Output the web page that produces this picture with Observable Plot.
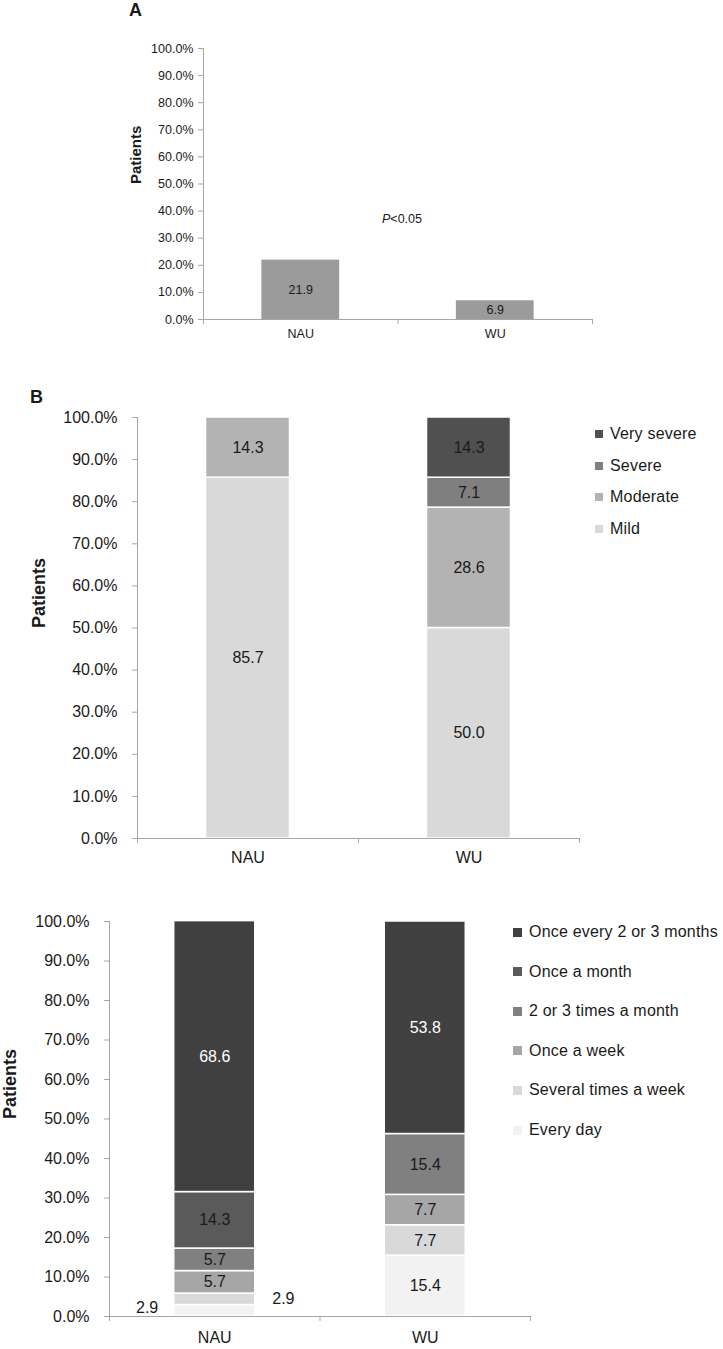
<!DOCTYPE html>
<html><head><meta charset="utf-8">
<script src="https://cdn.jsdelivr.net/npm/d3@7"></script>
<script src="https://cdn.jsdelivr.net/npm/@observablehq/plot@0.6"></script>
<style>
body{margin:0;background:#fff;font-family:"Liberation Sans",Arial,Helvetica,sans-serif;}
#root{position:relative;width:723px;height:1349px;overflow:hidden;background:#fff;}
.abs{position:absolute;white-space:nowrap;color:#1a1a1a;}
</style></head><body><div id="root"></div>
<script>
// ---------- data ----------
const groups = ["NAU", "WU"];
const yTicks = [0, 10, 20, 30, 40, 50, 60, 70, 80, 90, 100];

// Panel A
const aValues = [21.9, 6.9];
const aNote = "P<0.05";

// Panel B (bottom to top)
const bSeries = ["Mild", "Moderate", "Severe", "Very severe"];
const bNAU = [85.7, 14.3, 0, 0];
const bWU = [50.0, 28.6, 7.1, 14.3];
const bColors = ["#d9d9d9", "#b3b3b3", "#7f7f7f", "#505050"];

// Panel C (bottom to top)
const cSeries = ["Every day", "Several times a week", "Once a week", "2 or 3 times a month", "Once a month", "Once every 2 or 3 months"];
const cNAU = [2.9, 2.9, 5.7, 5.7, 14.3, 68.6];
const cWU = [15.4, 7.7, 7.7, 15.4, 0, 53.8];
const cColors = ["#f2f2f2", "#d9d9d9", "#a6a6a6", "#808080", "#5a5a5a", "#404040"];

// ---------- helpers ----------
const FONT = "'Liberation Sans', Arial, Helvetica, sans-serif";
const AXIS = "#a6a6a6";
const TXT = "#1a1a1a";
const root = document.getElementById("root");

function stackRows(series, valuesByGroup) {
  const rows = [];
  valuesByGroup.forEach((vals, gi) => {
    let acc = 0;
    vals.forEach((v, si) => {
      rows.push({group: groups[gi], gi, series: series[si], si, value: v, y1: acc, y2: acc + v});
      acc += v;
    });
  });
  return rows.filter(r => r.value > 0);
}

function place(el, top) {
  el.style.position = "absolute";
  el.style.left = "0px";
  el.style.top = top + "px";
  root.appendChild(el);
}

function htmlText(txt, left, top, size, bold) {
  const d = document.createElement("div");
  d.className = "abs";
  d.textContent = txt;
  d.style.left = left + "px";
  d.style.top = top + "px";
  d.style.fontSize = size + "px";
  d.style.lineHeight = "1";
  if (bold) d.style.fontWeight = "bold";
  root.appendChild(d);
  return d;
}

function legend(series, colors, x, y0, step, sq, size) {
  const order = series.map((s, i) => i).reverse();
  order.forEach((si, k) => {
    const cy = y0 + k * step;
    const sw = document.createElement("div");
    sw.className = "abs";
    sw.style.left = x + "px";
    sw.style.top = (cy - sq / 2) + "px";
    sw.style.width = sq + "px";
    sw.style.height = sq + "px";
    sw.style.background = colors[si];
    root.appendChild(sw);
    const t = htmlText(series[si], x + sq + 7, cy - size / 2, size, false);
    t.style.letterSpacing = "0.2px";
  });
}

function basePlot(o) {
  const n = groups.length;
  return Plot.plot({
    width: 723, height: o.height,
    marginTop: o.mt, marginBottom: o.mb, marginLeft: o.ml, marginRight: o.mr,
    style: {fontFamily: FONT, background: "transparent", overflow: "visible", color: TXT},
    x: {type: "linear", domain: [0, n], axis: null},
    y: {domain: [0, 100], axis: null},
    marks: [
      ...o.bars,
      Plot.ruleX([0], {stroke: AXIS, strokeWidth: 1}),
      Plot.ruleY([0], {stroke: AXIS, strokeWidth: 1}),
      Plot.axisY(yTicks, {anchor: "left", tickSize: 5, tickPadding: o.tickPad, tickFormat: d => d.toFixed(1) + "%",
        stroke: AXIS, fill: TXT, fontSize: o.fs, label: null}),
      Plot.axisX(d3.range(n + 1), {anchor: "bottom", tickSize: 5, tickFormat: () => "", stroke: AXIS, label: null}),
      Plot.text(groups, {x: (d, i) => i + 0.5, frameAnchor: "bottom", dy: o.xLabelDy, fontSize: o.fs, fill: TXT}),
      Plot.text(["Patients"], {frameAnchor: "left", dx: o.patDx, rotate: -90, fontWeight: "bold", fontSize: o.patFs, fill: TXT}),
      ...(o.extra || [])
    ]
  });
}

// ---------- Panel A ----------
const aRows = aValues.map((v, gi) => ({group: groups[gi], gi, value: v, y1: 0, y2: v}));
const aW = 0.4;
const svgA = basePlot({
  height: 350, mt: 48, mb: 31, ml: 203, mr: 131, fs: 12.5, tickPad: 5, xLabelDy: 18, patDx: -67, patFs: 15,
  bars: [
    Plot.rect(aRows, {x1: d => d.gi + 0.5 - aW / 2, x2: d => d.gi + 0.5 + aW / 2, y1: "y1", y2: "y2", fill: "#9b9b9b"}),
    Plot.text(aRows, {x: d => d.gi + 0.5, y: d => d.value / 2, text: d => d.value.toFixed(1), fontSize: 12.5, fill: TXT})
  ],
  extra: [
    Plot.text([aNote], {x: 1, dx: 4, y: 37, fontSize: 12.5, fill: TXT})
  ]
});
place(svgA, 0);
svgA.querySelectorAll("text").forEach(t => {
  if (t.textContent === aNote) {
    const ns = "http://www.w3.org/2000/svg";
    t.textContent = "";
    const p = document.createElementNS(ns, "tspan");
    p.setAttribute("font-style", "italic");
    p.textContent = aNote.slice(0, 1);
    const r = document.createElementNS(ns, "tspan");
    r.textContent = aNote.slice(1);
    t.appendChild(p); t.appendChild(r);
  }
});
htmlText("A", 129, 1, 18, true);

// ---------- Panel B ----------
const bRows = stackRows(bSeries, [bNAU, bWU]);
const bW = 0.38;
const svgB = basePlot({
  height: 500, mt: 37, mb: 42, ml: 137, mr: 144, fs: 16, tickPad: 15, xLabelDy: 24, patDx: -98, patFs: 18,
  bars: [
    Plot.rect(bRows, {x1: d => d.gi + 0.5 - bW / 2, x2: d => d.gi + 0.5 + bW / 2, y1: "y1", y2: "y2",
      fill: d => bColors[d.si], stroke: "white", strokeWidth: 1.5}),
    Plot.text(bRows, {x: d => d.gi + 0.5, y: d => (d.y1 + d.y2) / 2, text: d => d.value.toFixed(1), fontSize: 16, fill: TXT})
  ]
});
place(svgB, 380);
htmlText("B", 30, 388, 18, true);
legend(bSeries, bColors, 595, 434, 31.6, 8, 16);

// ---------- Panel C ----------
const cRows = stackRows(cSeries, [cNAU, cWU]);
const cW = 0.385;
const inside = cRows.filter(d => d.value >= 4);
const outside = cRows.filter(d => d.value < 4);
const outLeft = outside.filter((d, i) => i % 2 === 0);
const outRight = outside.filter((d, i) => i % 2 === 1);
const svgC = basePlot({
  height: 469, mt: 41, mb: 33, ml: 109, mr: 193, fs: 16, tickPad: 15, xLabelDy: 26, patDx: -99, patFs: 18,
  bars: [
    Plot.rect(cRows, {x1: d => d.gi + 0.5 - cW / 2, x2: d => d.gi + 0.5 + cW / 2, y1: "y1", y2: "y2",
      fill: d => cColors[d.si], stroke: "white", strokeWidth: 1.5}),
    Plot.text(inside, {x: d => d.gi + 0.5, y: d => (d.y1 + d.y2) / 2, text: d => d.value.toFixed(1), fontSize: 16,
      fill: d => d.si === cSeries.length - 1 ? "#ffffff" : TXT}),
    Plot.text(outLeft, {x: d => d.gi + 0.5 - cW / 2, dx: -16, textAnchor: "end", y: d => (d.y1 + d.y2) / 2, dy: -3,
      text: d => d.value.toFixed(1), fontSize: 16, fill: TXT}),
    Plot.text(outRight, {x: d => d.gi + 0.5 + cW / 2, dx: 17, textAnchor: "start", y: d => (d.y1 + d.y2) / 2,
      text: d => d.value.toFixed(1), fontSize: 16, fill: TXT})
  ]
});
place(svgC, 880);
legend(cSeries, cColors, 513, 932, 39.6, 9, 16);
</script></body></html>
